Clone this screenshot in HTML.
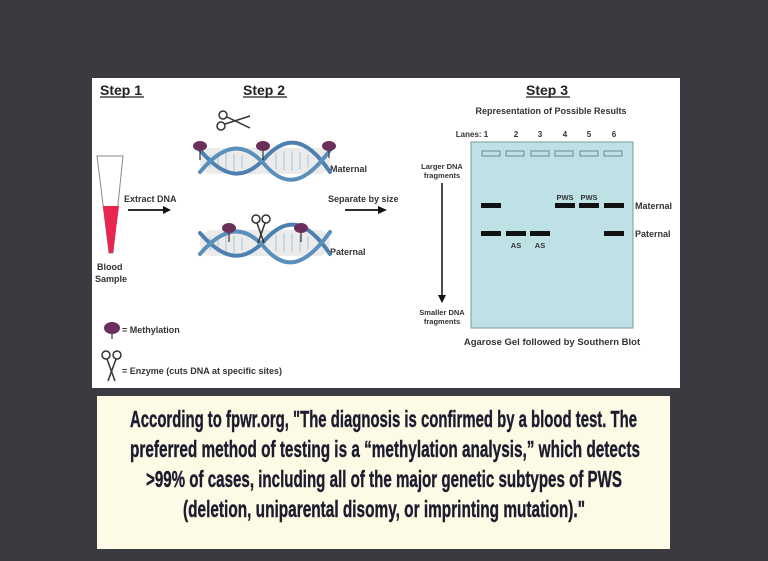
<!DOCTYPE html>
<html><head><meta charset="utf-8"><style>
html,body{margin:0;padding:0;background:#3b3a41;width:768px;height:561px;overflow:hidden}
svg{display:block}
text{font-family:"Liberation Sans",sans-serif}
</style></head><body>
<svg width="768" height="561" viewBox="0 0 768 561">
<rect x="0" y="0" width="768" height="561" fill="#3b3a41"/>
<rect x="92" y="78" width="588" height="310" fill="#ffffff"/>
<g font-weight="bold" font-size="14" fill="#222">
<text x="100" y="95">Step 1</text><line x1="100" y1="97" x2="144" y2="97" stroke="#222" stroke-width="1.3"/>
<text x="243" y="95">Step 2</text><line x1="243" y1="97" x2="287" y2="97" stroke="#222" stroke-width="1.3"/>
<text x="526" y="95">Step 3</text><line x1="526" y1="97" x2="570" y2="97" stroke="#222" stroke-width="1.3"/>
</g>
<polygon points="97,156 123,156 113,253 109,253" fill="#fff" stroke="#888" stroke-width="1"/>
<polygon points="103,206 119,206 113,253 109,253" fill="#e8264f"/>
<g font-size="9" font-weight="bold" fill="#333">
<text x="97" y="270">Blood</text><text x="95" y="282">Sample</text>
<text x="124" y="202">Extract DNA</text>
<text x="328" y="202">Separate by size</text>
<text x="330" y="172">Maternal</text>
<text x="330" y="255">Paternal</text>
<text x="122" y="333">= Methylation</text>
<text x="122" y="374">= Enzyme (cuts DNA at specific sites)</text>
</g>
<g stroke="#111" stroke-width="1.8" fill="#111">
<line x1="128" y1="210" x2="165" y2="210"/><polygon points="163,206 171,210 163,214" stroke="none"/>
<line x1="345" y1="210" x2="380" y2="210"/><polygon points="378,206 387,210 378,214" stroke="none"/>
</g>
<g fill="none" stroke-linecap="round">
<rect x="200" y="148" width="130" height="26" rx="12" fill="#ddd" opacity="0.6"/>
<g stroke="#a9c3da" stroke-width="1">
<path d="M210,156v12M218,154v16M226,153v18M234,154v16M242,156v12M276,153v16M284,152v18M292,152v18M300,153v16M308,155v12"/>
</g>
<path d="M200,150 C225,180 245,180 265,158 S305,135 330,172" stroke="#4d7fb0" stroke-width="4"/>
<path d="M200,172 C225,142 245,142 265,165 S305,185 330,150" stroke="#5a8ebb" stroke-width="4"/>
<rect x="200" y="230" width="130" height="26" rx="12" fill="#ddd" opacity="0.6"/>
<g stroke="#a9c3da" stroke-width="1">
<path d="M210,238v12M218,236v16M226,235v18M234,236v16M242,238v12M276,235v16M284,234v18M292,234v18M300,235v16M308,237v12"/>
</g>
<path d="M200,233 C225,262 245,262 265,240 S305,217 330,254" stroke="#4d7fb0" stroke-width="4"/>
<path d="M200,254 C225,225 245,225 265,248 S305,267 330,232" stroke="#5a8ebb" stroke-width="4"/>
</g>
<g stroke="#333" stroke-width="1.2">
<line x1="200" y1="148" x2="200" y2="160"/><line x1="263" y1="148" x2="263" y2="160"/><line x1="329" y1="148" x2="329" y2="158"/>
<line x1="229" y1="231" x2="229" y2="242"/><line x1="301" y1="231" x2="301" y2="242"/>
<line x1="112" y1="331" x2="112" y2="339"/>
</g>
<g fill="#6b2f5b">
<ellipse cx="200" cy="146" rx="7" ry="5"/><ellipse cx="263" cy="146" rx="7" ry="5"/><ellipse cx="329" cy="146" rx="7" ry="5"/>
<ellipse cx="229" cy="228" rx="7" ry="5"/><ellipse cx="301" cy="228" rx="7" ry="5"/>
<ellipse cx="112" cy="328" rx="8" ry="6"/>
</g>
<g stroke="#333" fill="none" stroke-width="1.5">
<circle cx="223" cy="115" r="4"/><circle cx="221" cy="126" r="4"/>
<line x1="227" y1="117" x2="250" y2="128"/><line x1="225" y1="124" x2="250" y2="116"/>
<circle cx="256" cy="219" r="4"/><circle cx="266" cy="219" r="4"/>
<line x1="257" y1="223" x2="264" y2="243"/><line x1="265" y1="223" x2="258" y2="243"/>
<circle cx="106" cy="355" r="4"/><circle cx="117" cy="355" r="4"/>
<line x1="107" y1="359" x2="115" y2="381"/><line x1="116" y1="359" x2="108" y2="381"/>
</g>
<text x="551" y="114" font-size="9" font-weight="bold" fill="#333" text-anchor="middle">Representation of Possible Results</text>
<g font-size="8" font-weight="bold" fill="#333" text-anchor="middle">
<text x="472" y="137">Lanes: 1</text><text x="516" y="137">2</text><text x="540" y="137">3</text><text x="565" y="137">4</text><text x="589" y="137">5</text><text x="614" y="137">6</text>
</g>
<rect x="471" y="142" width="162" height="186" fill="#bde1e4" stroke="#7a9a9e" stroke-width="1"/>
<g fill="none" stroke="#6a8a8e" stroke-width="1">
<rect x="482" y="151" width="18" height="5"/><rect x="506" y="151" width="18" height="5"/><rect x="531" y="151" width="18" height="5"/>
<rect x="555" y="151" width="18" height="5"/><rect x="580" y="151" width="18" height="5"/><rect x="604" y="151" width="18" height="5"/>
</g>
<g fill="#111">
<rect x="481" y="203" width="20" height="5"/><rect x="555" y="203" width="20" height="5"/><rect x="579" y="203" width="20" height="5"/><rect x="604" y="203" width="20" height="5"/>
<rect x="481" y="231" width="20" height="5"/><rect x="506" y="231" width="20" height="5"/><rect x="530" y="231" width="20" height="5"/><rect x="604" y="231" width="20" height="5"/>
</g>
<g font-size="7.5" font-weight="bold" fill="#333" text-anchor="middle">
<text x="565" y="200">PWS</text><text x="589" y="200">PWS</text>
<text x="516" y="248">AS</text><text x="540" y="248">AS</text>
<text x="442" y="169">Larger DNA</text><text x="442" y="178">fragments</text>
<text x="442" y="315">Smaller DNA</text><text x="442" y="324">fragments</text>
</g>
<line x1="442" y1="183" x2="442" y2="296" stroke="#111" stroke-width="1.5"/>
<polygon points="438,295 446,295 442,303" fill="#111"/>
<g font-size="9" font-weight="bold" fill="#333">
<text x="635" y="209">Maternal</text><text x="635" y="237">Paternal</text>
</g>
<text x="552" y="345" font-size="9.5" font-weight="bold" fill="#333" text-anchor="middle">Agarose Gel followed by Southern Blot</text>
<rect x="97" y="396" width="573" height="153" fill="#fdfae6"/>
<g font-family="'Liberation Sans Narrow','Liberation Sans',sans-serif" font-weight="bold" font-size="23" fill="#1c1c2e" stroke="#1c1c2e" stroke-width="0.4">
<text x="130" y="427" textLength="507" lengthAdjust="spacingAndGlyphs">According to fpwr.org, "The diagnosis is confirmed by a blood test. The</text>
<text x="130" y="457" textLength="510" lengthAdjust="spacingAndGlyphs">preferred method of testing is a “methylation analysis,” which detects</text>
<text x="146" y="487" textLength="476" lengthAdjust="spacingAndGlyphs">&gt;99% of cases, including all of the major genetic subtypes of PWS</text>
<text x="183" y="517" textLength="402" lengthAdjust="spacingAndGlyphs">(deletion, uniparental disomy, or imprinting mutation)."</text>
</g>
</svg>
</body></html>
